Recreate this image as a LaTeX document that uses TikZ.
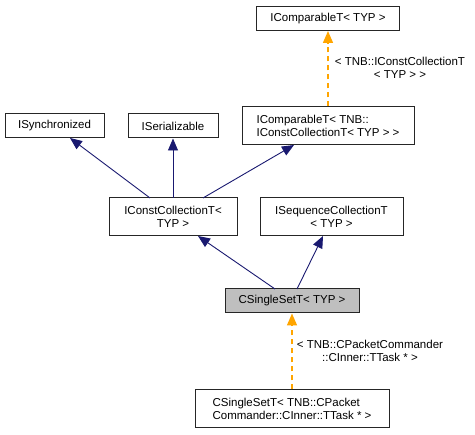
\documentclass[tikz,border=0pt]{standalone}
\usepackage{fontspec}
\setmainfont{Liberation Sans}
\usetikzlibrary{arrows.meta}
\definecolor{inh}{HTML}{191970}
\definecolor{tpl}{HTML}{FFA500}
\definecolor{cur}{HTML}{BFBFBF}
\tikzset{
  x=1pt,y=-1pt,
  cls/.style={draw=black!85,line width=1pt,fill=white,inner sep=0pt,font=\fontsize{11.5}{13}\selectfont},
  curcls/.style={cls,fill=cur},
  inhedge/.style={draw=inh,line width=0.9pt,-{Triangle[length=12pt,width=10pt]}},
  tpledge/.style={draw=tpl,line width=1.5pt,dash pattern=on 5pt off 4pt,-{Triangle[length=12pt,width=10pt]}},
  elabel/.style={font=\fontsize{11.5}{13}\selectfont,inner sep=0pt,align=center}
}
\begin{document}
\begin{tikzpicture}
\useasboundingbox (0,0) rectangle (475,435);
% nodes
\node[cls,minimum width=143,minimum height=24] (icmp) at (328,18.5) {IComparableT< TYP >};
\node[cls,minimum width=99,minimum height=24] (isync) at (54.5,126) {ISynchronized};
\node[cls,minimum width=90,minimum height=24] (iser) at (173,126) {ISerializable};
\node[cls,minimum width=172,minimum height=38,align=left] (icmpc) at (328,126) {IComparableT< TNB::\\IConstCollectionT< TYP > >};
\node[cls,minimum width=128,minimum height=38,align=center] (iconst) at (173,217) {IConstCollectionT<\\TYP >};
\node[cls,minimum width=143,minimum height=38,align=center] (iseq) at (331.5,217) {ISequenceCollectionT\\< TYP >};
\node[curcls,minimum width=134,minimum height=24] (css) at (292,301) {CSingleSetT< TYP >};
\node[cls,minimum width=194,minimum height=38,align=left] (cssi) at (292,409) {CSingleSetT< TNB::CPacket\\Commander::CInner::TTask * >};
% coordinates for edge ends
\coordinate (a1) at (150,198);
\coordinate (a2) at (173,198);
\coordinate (a3) at (203,198);
\coordinate (b1) at (275,289);
\coordinate (b2) at (297,289);
\coordinate (t1) at (70,138);
\coordinate (t3) at (294,145);
\coordinate (t4) at (198,236);
\coordinate (t5) at (323,236);
% edges
\draw[inhedge] (a1) -- (t1);
\draw[inhedge] (a2) -- (iser.south);
\draw[inhedge] (a3) -- (t3);
\draw[inhedge] (b1) -- (t4);
\draw[inhedge] (b2) -- (t5);
\draw[tpledge] (icmpc.north) -- (icmp.south);
\draw[tpledge] (cssi.north) -- (css.south);
% labels
\node[elabel] (l1) at (400,68) {< TNB::IConstCollectionT\\< TYP > >};
\node[elabel] (l2) at (370,351) {< TNB::CPacketCommander\\::CInner::TTask * >};
\end{tikzpicture}
\end{document}
